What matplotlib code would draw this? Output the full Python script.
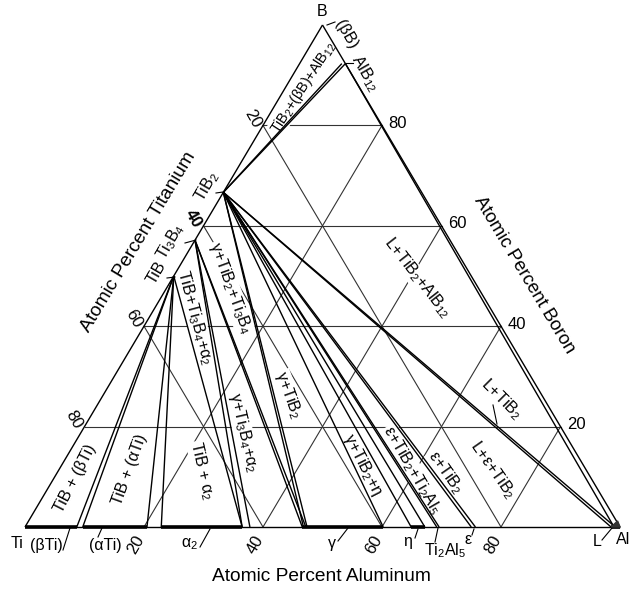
import numpy as np
import matplotlib
matplotlib.use('Agg')
import matplotlib.pyplot as plt

plt.rcParams['font.family'] = ['Liberation Sans', 'DejaVu Sans']
plt.rcParams['mathtext.fontset'] = 'custom'
plt.rcParams['mathtext.rm'] = 'Liberation Sans'
plt.rcParams['mathtext.it'] = 'Liberation Sans'
plt.rcParams['mathtext.bf'] = 'Liberation Sans:bold'

# compounds as (Al fraction, B fraction)
TIB = (0.0, 0.5)
TI3B4 = (0.0, 4 / 7)
TIB2 = (0.0, 2 / 3)
ALB12 = (1 / 13, 12 / 13)
ALB12_B = (1 / 13 - 0.006, 12 / 13)

# single phase fields on the Ti-Al edge (Al fraction)
field_lo = [0.0, 0.097, 0.229, 0.466, 0.649, 0.985]
field_hi = [0.087, 0.205, 0.365, 0.602, 0.672, 1.0]

# tie lines: compound -> Al fraction where they hit the Ti-Al edge
tib_ends = [0.087, 0.097, 0.205, 0.229, 0.365]
ti3b4_ends = [0.365, 0.378, 0.466, 0.472]
tib2_ends = [0.468, 0.474, 0.602, 0.649, 0.672, 0.692, 0.696,
             0.750, 0.757, 0.985, 0.992]

grid_vals = [0.2, 0.4, 0.6, 0.8]
tick_text = ['20', '40', '60', '80']


def xy(al, b):
    return al + 0.5 * b, b


def seg(ax, p, q, **kw):
    x0, y0 = xy(*p)
    x1, y1 = xy(*q)
    ax.plot([x0, x1], [y0, y1], clip_on=False, **kw)


fig = plt.figure(figsize=(6.41, 5.89), dpi=100)
# triangle Ti (25,527) - Al (620,527) - B (323,25) in pixels
ax = fig.add_axes([25 / 641, 62 / 589, 595 / 641, 502 / 589])
ax.set_xlim(0, 1)
ax.set_ylim(0, 1)
ax.axis('off')

grid_kw = dict(color='#333333', lw=0.8, zorder=1)
line_kw = dict(color='black', lw=1.0, zorder=3, solid_capstyle='butt')

# grid
for v in grid_vals:
    seg(ax, (0, v), (1 - v, v), **grid_kw)          # const B
    seg(ax, (v, 0), (v, 1 - v), **grid_kw)          # const Al
    if v < 0.8:
        seg(ax, (0, 1 - v), (1 - v, 0), **grid_kw)  # const Ti

# triangle edges
seg(ax, (0, 0), (1, 0), **line_kw)
seg(ax, (1, 0), (0, 1), **line_kw)
seg(ax, (0, 1), (0, 0), **line_kw)

# phase fields on the binary edge
for lo, hi in zip(field_lo, field_hi):
    seg(ax, (lo, 0), (hi, 0), color='black', lw=2.6, zorder=4,
        solid_capstyle='butt')

# tie lines
for a in tib_ends:
    seg(ax, TIB, (a, 0), **line_kw)
for a in ti3b4_ends:
    seg(ax, TI3B4, (a, 0), **line_kw)
for a in tib2_ends:
    seg(ax, TIB2, (a, 0), **line_kw)
seg(ax, TIB2, ALB12, **line_kw)
seg(ax, TIB2, ALB12_B, **line_kw)
seg(ax, ALB12, (0.99, 0), **line_kw)

# small L corner
lx = [xy(0.985, 0)[0], xy(1, 0)[0], xy(0.99, 0.012)[0]]
ly = [0, 0, 0.012]
ax.fill(lx, ly, color='#333333', zorder=4, clip_on=False)

# tick labels
for v, t in zip(grid_vals, tick_text):
    x, y = xy(v, 0)
    ax.text(x - 0.0134, y - 0.036, t, fontsize=12, rotation=60,
            ha='center', va='center', clip_on=False)
    x, y = xy(0, v)
    ax.text(x - 0.0176, y + 0.014, tick_text[3 - grid_vals.index(v)],
            fontsize=12, rotation=-60, ha='center', va='center',
            fontweight='bold' if v == 0.6 else 'normal', clip_on=False)
    x, y = xy(1 - v, v)
    ax.text(x + 0.011, y + 0.004, t, fontsize=12, ha='left', va='center',
            clip_on=False)

# axis titles
ax.text(0.499, -0.099, 'Atomic Percent Aluminum', fontsize=13.8,
        ha='center', va='center', clip_on=False)
ax.text(0.19, 0.5677, 'Atomic Percent Titanium', fontsize=13.8,
        rotation=59, ha='center', va='center', clip_on=False)
ax.text(0.8387, 0.502, 'Atomic Percent Boron', fontsize=13.4,
        rotation=-59, ha='center', va='center', clip_on=False)

# corner and phase names
names = [
    ('Ti', -0.0134, -0.032, 0), ('(βTi)', 0.0353, -0.036, 0),
    ('(αTi)', 0.1345, -0.036, 0), ('α$_2$', 0.2773, -0.034, 0),
    ('γ', 0.516, -0.032, 0), ('η', 0.6437, -0.028, 0),
    ('Ti$_2$Al$_5$', 0.7059, -0.048, 0), ('ε', 0.7445, -0.024, 0),
    ('L', 0.9613, -0.028, 0), ('Al', 1.005, -0.024, 0),
    ('B', 0.5, 1.026, 0), ('(βB)', 0.5395, 0.982, -60),
    ('AlB$_{12}$', 0.5714, 0.904, -60), ('TiB$_2$', 0.3059, 0.679, 60),
    ('Ti$_3$B$_4$', 0.2454, 0.568, 60), ('TiB', 0.2218, 0.506, 60),
]
for t, x, y, r in names:
    ax.text(x, y, t, fontsize=11.5, rotation=r, ha='center', va='center',
            clip_on=False)

# region labels
regions = [
    ('γ+TiB$_2$+Ti$_3$B$_4$', 0.3445, 0.476, -70),
    ('TiB+Ti$_3$B$_4$+α$_2$', 0.2857, 0.418, -75),
    ('γ+Ti$_3$B$_4$+α$_2$', 0.3664, 0.189, -77),
    ('TiB + α$_2$', 0.2975, 0.112, -77),
    ('TiB + (αTi)', 0.1765, 0.1135, 70),
    ('TiB + (βTi)', 0.084, 0.0976, 63),
    ('γ+TiB$_2$', 0.442, 0.263, -70),
    ('γ+TiB$_2$+η', 0.568, 0.1235, -63),
    ('ε+TiB$_2$+Ti$_2$Al$_5$', 0.6504, 0.1135, -60),
    ('ε+TiB$_2$', 0.7059, 0.1096, -55),
    ('L+ε+TiB$_2$', 0.7866, 0.1135, -55),
    ('L+TiB$_2$', 0.80, 0.255, -45),
    ('L+TiB$_2$+AlB$_{12}$', 0.6588, 0.496, -52),
]
for t, x, y, r in regions:
    ax.text(x, y, t, fontsize=11.5, rotation=r, ha='center', va='center',
            zorder=2, bbox=dict(fc='white', ec='none', pad=0.5))

# narrow top triangle gets a smaller label
ax.text(0.4672, 0.8745, 'TiB$_2$+(βB)+AlB$_{12}$', fontsize=10.3,
        rotation=57, ha='center', va='center', zorder=2,
        bbox=dict(fc='white', ec='none', pad=0.3))

# leader lines (pixel pairs converted to data)
leaders = [((63, 550), (70, 528)), ((98, 537), (102, 528)),
           ((200, 547), (210, 529)), ((338, 541), (348, 528)),
           ((415, 538), (418, 529)), ((435, 542), (438, 528)),
           ((472, 535), (474, 529)), ((602, 540), (612, 528)),
           ((216, 193), (223, 192)), ((185, 243), (196, 240)),
           ((167, 278), (175, 277)), ((353, 63), (346, 63)),
           ((327, 25), (335, 22)), ((493, 405), (497, 424))]
for (p0, p1) in leaders:
    xs = [(p0[0] - 25) / 595, (p1[0] - 25) / 595]
    ys = [(527 - p0[1]) / 502, (527 - p1[1]) / 502]
    ax.plot(xs, ys, color='black', lw=0.8, clip_on=False, zorder=3)

plt.savefig('out.png', dpi=100)
plt.close()
